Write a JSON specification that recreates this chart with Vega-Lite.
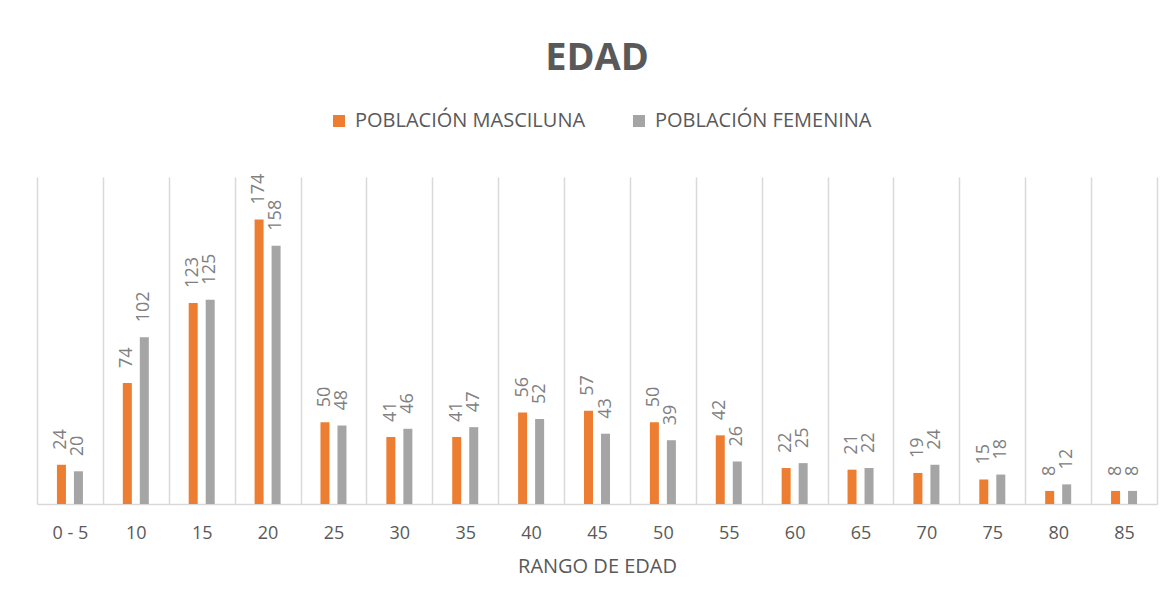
{
  "$schema": "https://vega.github.io/schema/vega-lite/v6.json",
  "width": 1120,
  "height": 327,
  "autosize": "none",
  "padding": {"left": 37, "top": 177, "right": 18, "bottom": 107},
  "background": "white",
  "title": {"text": "EDAD", "font": "Open Sans", "fontSize": 38, "fontWeight": "bold", "color": "#595959", "anchor": "middle", "offset": 33},
  "config": {"view": {"stroke": null}},
  "data": {"values": [
    {"rango": "0 - 5", "sexo": "POBLACIÓN MASCILUNA", "valor": 24},
    {"rango": "0 - 5", "sexo": "POBLACIÓN FEMENINA", "valor": 20},
    {"rango": "10", "sexo": "POBLACIÓN MASCILUNA", "valor": 74},
    {"rango": "10", "sexo": "POBLACIÓN FEMENINA", "valor": 102},
    {"rango": "15", "sexo": "POBLACIÓN MASCILUNA", "valor": 123},
    {"rango": "15", "sexo": "POBLACIÓN FEMENINA", "valor": 125},
    {"rango": "20", "sexo": "POBLACIÓN MASCILUNA", "valor": 174},
    {"rango": "20", "sexo": "POBLACIÓN FEMENINA", "valor": 158},
    {"rango": "25", "sexo": "POBLACIÓN MASCILUNA", "valor": 50},
    {"rango": "25", "sexo": "POBLACIÓN FEMENINA", "valor": 48},
    {"rango": "30", "sexo": "POBLACIÓN MASCILUNA", "valor": 41},
    {"rango": "30", "sexo": "POBLACIÓN FEMENINA", "valor": 46},
    {"rango": "35", "sexo": "POBLACIÓN MASCILUNA", "valor": 41},
    {"rango": "35", "sexo": "POBLACIÓN FEMENINA", "valor": 47},
    {"rango": "40", "sexo": "POBLACIÓN MASCILUNA", "valor": 56},
    {"rango": "40", "sexo": "POBLACIÓN FEMENINA", "valor": 52},
    {"rango": "45", "sexo": "POBLACIÓN MASCILUNA", "valor": 57},
    {"rango": "45", "sexo": "POBLACIÓN FEMENINA", "valor": 43},
    {"rango": "50", "sexo": "POBLACIÓN MASCILUNA", "valor": 50},
    {"rango": "50", "sexo": "POBLACIÓN FEMENINA", "valor": 39},
    {"rango": "55", "sexo": "POBLACIÓN MASCILUNA", "valor": 42},
    {"rango": "55", "sexo": "POBLACIÓN FEMENINA", "valor": 26},
    {"rango": "60", "sexo": "POBLACIÓN MASCILUNA", "valor": 22},
    {"rango": "60", "sexo": "POBLACIÓN FEMENINA", "valor": 25},
    {"rango": "65", "sexo": "POBLACIÓN MASCILUNA", "valor": 21},
    {"rango": "65", "sexo": "POBLACIÓN FEMENINA", "valor": 22},
    {"rango": "70", "sexo": "POBLACIÓN MASCILUNA", "valor": 19},
    {"rango": "70", "sexo": "POBLACIÓN FEMENINA", "valor": 24},
    {"rango": "75", "sexo": "POBLACIÓN MASCILUNA", "valor": 15},
    {"rango": "75", "sexo": "POBLACIÓN FEMENINA", "valor": 18},
    {"rango": "80", "sexo": "POBLACIÓN MASCILUNA", "valor": 8},
    {"rango": "80", "sexo": "POBLACIÓN FEMENINA", "valor": 12},
    {"rango": "85", "sexo": "POBLACIÓN MASCILUNA", "valor": 8},
    {"rango": "85", "sexo": "POBLACIÓN FEMENINA", "valor": 8}
  ]},
  "encoding": {
    "x": {
      "field": "rango", "type": "nominal", "sort": null,
      "scale": {"paddingInner": 0, "paddingOuter": 0},
      "title": "RANGO DE EDAD",
      "axis": {
        "tickBand": "extent", "grid": true, "gridColor": "#d9d9d9", "gridWidth": 1.5,
        "domainColor": "#d9d9d9", "domainWidth": 1.5, "ticks": false,
        "labelAngle": 0, "labelFont": "Open Sans", "labelFontSize": 18, "labelColor": "#595959", "labelPadding": 20,
        "titleFont": "Open Sans", "titleFontSize": 20, "titleFontWeight": "normal", "titleColor": "#595959", "titlePadding": 14
      }
    },
    "xOffset": {
      "field": "sexo", "type": "nominal", "sort": ["POBLACIÓN MASCILUNA", "POBLACIÓN FEMENINA"],
      "scale": {"paddingInner": 0, "paddingOuter": 0.9376}
    },
    "y": {"field": "valor", "type": "quantitative", "scale": {"domain": [0, 200]}, "axis": null}
  },
  "layer": [
    {
      "mark": {"type": "bar", "size": 9},
      "encoding": {
        "color": {
          "field": "sexo", "type": "nominal", "sort": ["POBLACIÓN MASCILUNA", "POBLACIÓN FEMENINA"],
          "scale": {"range": ["#ED7D31", "#A5A5A5"]},
          "legend": {
            "title": null, "orient": "none", "legendX": 292, "legendY": -66, "direction": "horizontal",
            "symbolType": "square", "symbolSize": 144, "symbolStrokeWidth": 0,
            "labelFont": "Open Sans", "labelFontSize": 20, "labelColor": "#595959", "labelOffset": 6,
            "columnPadding": 43, "padding": 0, "labelLimit": 400
          }
        }
      }
    },
    {
      "mark": {"type": "text", "angle": -90, "align": "left", "baseline": "middle", "dx": 15, "font": "Open Sans", "fontSize": 18, "color": "#808080"},
      "encoding": {"text": {"field": "valor", "type": "quantitative"}}
    }
  ]
}
